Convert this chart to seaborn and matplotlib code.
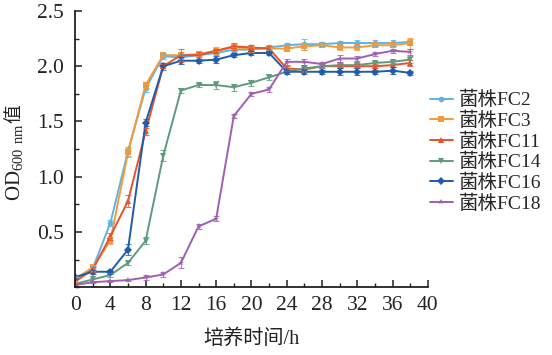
import pandas as pd
import seaborn as sns
import matplotlib.pyplot as plt
from matplotlib.ticker import MultipleLocator

# Datos (OD600 vs tiempo de cultivo)
horas = [0, 2, 4, 6, 8, 10, 12, 14, 16, 18, 20, 22, 24, 26, 28, 30, 32, 34, 36, 38]
cepas = ['菌株FC2', '菌株FC3', '菌株FC11', '菌株FC14', '菌株FC16', '菌株FC18']

fc2 = [0.08, 0.17, 0.58, 1.23, 1.80, 2.09, 2.08, 2.10, 2.12, 2.15, 2.15, 2.17, 2.19, 2.20, 2.20, 2.21, 2.21, 2.21, 2.21, 2.22]
fc3 = [0.07, 0.18, 0.42, 1.22, 1.83, 2.10, 2.10, 2.11, 2.14, 2.17, 2.16, 2.16, 2.16, 2.18, 2.19, 2.17, 2.17, 2.19, 2.19, 2.21]
fc11 = [0.05, 0.16, 0.46, 0.78, 1.41, 2.00, 2.10, 2.10, 2.14, 2.18, 2.17, 2.16, 1.98, 1.97, 2.00, 2.00, 2.00, 2.00, 2.01, 2.03]
fc14 = [0.03, 0.07, 0.11, 0.22, 0.42, 1.19, 1.78, 1.83, 1.83, 1.81, 1.85, 1.90, 1.95, 1.98, 2.00, 2.01, 2.01, 2.03, 2.04, 2.06]
fc16 = [0.09, 0.14, 0.14, 0.34, 1.49, 2.00, 2.05, 2.05, 2.06, 2.10, 2.12, 2.12, 1.95, 1.95, 1.95, 1.95, 1.95, 1.95, 1.96, 1.94]
fc18 = [0.02, 0.045, 0.055, 0.064, 0.088, 0.115, 0.22, 0.55, 0.62, 1.55, 1.75, 1.79, 2.04, 2.04, 2.02, 2.07, 2.07, 2.11, 2.14, 2.13]

# desvios estimados (barras de error)
err2 = [0.02, 0.02, 0.03, 0.04, 0.03, 0.02, 0.03, 0.02, 0.02, 0.02, 0.02, 0.02, 0.02, 0.05, 0.02, 0.02, 0.03, 0.03, 0.03, 0.03]
err3 = [0.02, 0.02, 0.03, 0.04, 0.03, 0.02, 0.03, 0.02, 0.03, 0.03, 0.03, 0.02, 0.02, 0.03, 0.02, 0.02, 0.02, 0.02, 0.02, 0.05]
err11 = [0.02, 0.02, 0.03, 0.05, 0.03, 0.02, 0.06, 0.03, 0.02, 0.03, 0.02, 0.02, 0.02, 0.02, 0.02, 0.02, 0.02, 0.02, 0.02, 0.03]
err14 = [0.01, 0.01, 0.02, 0.02, 0.03, 0.05, 0.02, 0.02, 0.04, 0.03, 0.03, 0.02, 0.02, 0.02, 0.02, 0.02, 0.02, 0.02, 0.02, 0.03]
err16 = [0.02, 0.02, 0.02, 0.05, 0.03, 0.03, 0.03, 0.02, 0.03, 0.02, 0.02, 0.02, 0.02, 0.02, 0.02, 0.03, 0.03, 0.02, 0.03, 0.02]
err18 = [0.01, 0.01, 0.01, 0.01, 0.02, 0.02, 0.05, 0.02, 0.02, 0.02, 0.02, 0.02, 0.03, 0.03, 0.02, 0.03, 0.02, 0.02, 0.02, 0.03]

colores = ['#5fb3e2', '#f39a3c', '#e4532c', '#5f9b7f', '#1f5cab', '#a05fb3']
marcadores = ['o', 's', '^', 'v', 'D', '*']

valores = [fc2, fc3, fc11, fc14, fc16, fc18]
errores = [err2, err3, err11, err14, err16, err18]

df = pd.concat([pd.DataFrame({'hora': horas, 'od': v, 'sd': e, 'cepa': c})
                for v, e, c in zip(valores, errores, cepas)], ignore_index=True)

sns.set_style('ticks')
plt.rcParams['font.family'] = ['Liberation Serif', 'Noto Sans CJK SC']
plt.rcParams['mathtext.fontset'] = 'custom'
plt.rcParams['mathtext.rm'] = 'Liberation Serif'
plt.rcParams['xtick.direction'] = 'in'
plt.rcParams['ytick.direction'] = 'in'

fig = plt.figure(figsize=(5.52, 3.55), dpi=100)
ax = fig.add_axes([0.136, 0.191, 0.639, 0.778])

paleta = dict(zip(cepas, colores))
sns.lineplot(data=df, x='hora', y='od', hue='cepa', style='cepa', hue_order=cepas,
             style_order=cepas, palette=paleta, markers=dict(zip(cepas, marcadores)),
             dashes=False, markersize=4, linewidth=1.4, markeredgewidth=0,
             errorbar=None, ax=ax)

for c in cepas:
    sub = df[df['cepa'] == c]
    ax.errorbar(sub['hora'], sub['od'], yerr=sub['sd'], fmt='none', ecolor=paleta[c],
                elinewidth=0.8, capsize=2.5, capthick=0.8, alpha=0.8)

ax.set_xlim(0, 40)
ax.set_ylim(0, 2.5)
ax.xaxis.set_major_locator(MultipleLocator(4))
ax.xaxis.set_minor_locator(MultipleLocator(2))
ax.yaxis.set_minor_locator(MultipleLocator(0.25))
ax.set_yticks([0.5, 1.0, 1.5, 2.0, 2.5])
ax.set_yticklabels(['0.5', '1.0', '1.5', '2.0', '2.5'])
ax.tick_params(which='major', length=5, width=1.1, labelsize=15.5, colors='#222222')
ax.tick_params(which='minor', length=3, width=1.0, colors='#222222')
ax.tick_params(axis='x', pad=6)
ax.tick_params(axis='y', pad=8)
for lado in ['top', 'right']:
    ax.spines[lado].set_visible(False)
for lado in ['left', 'bottom']:
    ax.spines[lado].set_linewidth(1.3)
    ax.spines[lado].set_color('#222222')

ax.set_xlabel('培养时间/h', fontsize=14.5, color='#222222', labelpad=11)
ax.set_ylabel('')

handles, labels = ax.get_legend_handles_labels()
ax.legend(handles, labels, loc='center left', bbox_to_anchor=(0.985, 0.49), frameon=False,
          fontsize=14, handlelength=1.15, handletextpad=0.3, labelspacing=0.12,
          borderaxespad=0)

# etiqueta del eje y: OD subindice 600 nm + 值
W, H = fig.bbox.width, fig.bbox.height
t1 = fig.text(4 / W, 1 - 201 / H, r'OD$_{600\ \mathrm{nm}}$', rotation=90, ha='left',
              va='bottom', fontsize=15, color='#222222')
fig.canvas.draw()
bb = t1.get_window_extent()
fig.text(3 / W, (bb.y1 + 1) / H, '值', rotation=90, ha='left', va='bottom',
         fontsize=13.5, color='#222222', family=['Noto Sans CJK SC'])

fig.savefig('out.png', dpi=100)
